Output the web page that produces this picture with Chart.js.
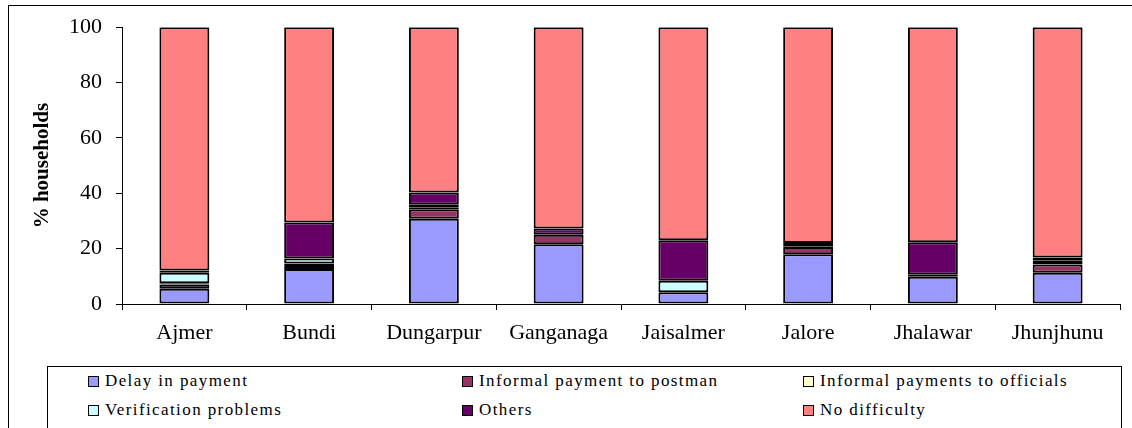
<!DOCTYPE html>
<html>
<head>
<meta charset="utf-8">
<script src="https://cdn.jsdelivr.net/npm/chart.js@4/dist/chart.umd.min.js"></script>
<style>
  html, body { margin: 0; padding: 0; background: #fff; }
  #wrap { position: relative; width: 1132px; height: 428px; overflow: hidden; }
  #frame { position: absolute; left: 8px; top: 5px; width: 1300px; height: 600px; border: 1.5px solid #000; box-sizing: border-box; }
  canvas { position: absolute; left: 0; top: 0; }
  #legend { position: absolute; left: 47px; top: 366px; width: 1075px; height: 100px; border: 1px solid #000; box-sizing: border-box; background: #fff; font-family: "Liberation Serif", "Times New Roman", serif; font-size: 17px; color: #000; }
  .item { position: absolute; display: flex; align-items: center; white-space: nowrap; letter-spacing: 1.4px; }
  .sw { width: 9px; height: 9px; border: 1.5px solid #000; margin-right: 6px; }
</style>
</head>
<body>
<div id="wrap">
  <div id="frame"></div>
  <canvas id="c" width="1132" height="428"></canvas>
  <div id="legend"></div>
</div>
<script>
const categories = ["Ajmer", "Bundi", "Dungarpur", "Ganganaga", "Jaisalmer", "Jalore", "Jhalawar", "Jhunjhunu"];
const delayInPayment        = [5.5, 12.6, 30.8, 21.6, 4.2, 18.0, 9.8, 11.3];
const informalPostman       = [1.5, 1.5, 3.4, 3.4, 0.0, 2.6, 0.8, 3.0];
const informalOfficials     = [0.5, 0.5, 0.6, 0.0, 0.0, 0.3, 0.0, 0.5];
const verificationProblems  = [3.8, 1.8, 1.1, 0.0, 4.2, 1.1, 0.0, 0.8];
const others                = [0.8, 13.0, 4.4, 2.3, 14.6, 0.0, 11.7, 1.2];
const noDifficulty          = [87.9, 70.6, 59.7, 72.7, 77.0, 78.0, 77.7, 83.2];
const yTicks = [0, 20, 40, 60, 80, 100];

const seriesNames = ["Delay in payment", "Informal payment to postman", "Informal payments to officials", "Verification problems", "Others", "No difficulty"];
const seriesData = [delayInPayment, informalPostman, informalOfficials, verificationProblems, others, noDifficulty];
const seriesColors = ["#9999FF", "#993366", "#FFFFCC", "#CCFFFF", "#660066", "#FF8080"];

const FONT = "'Liberation Serif', 'Times New Roman', serif";

const datasets = seriesNames.map((n, i) => ({
  label: n,
  data: seriesData[i],
  backgroundColor: seriesColors[i],
  borderColor: "#000",
  borderWidth: 2,
  borderSkipped: false,
  categoryPercentage: 1.0,
  barPercentage: 0.4
}));

new Chart(document.getElementById("c"), {
  type: "bar",
  data: { labels: categories, datasets },
  options: {
    responsive: false,
    animation: false,
    layout: { padding: { top: 26, left: 0, right: 12, bottom: 84 } },
    plugins: { legend: { display: false }, tooltip: { enabled: false } },
    scales: {
      x: {
        stacked: true,
        offset: true,
        grid: { offset: true, drawOnChartArea: false, drawTicks: true, tickLength: 6, color: "#000", lineWidth: 1 },
        border: { display: true, color: "#000", width: 1 },
        ticks: { color: "#000", padding: 10, font: { family: FONT, size: 22 }, maxRotation: 0 },
        afterFit: s => { s.height = 40; }
      },
      y: {
        stacked: true,
        min: 0, max: 100,
        afterBuildTicks: s => { s.ticks = yTicks.map(v => ({ value: v })); },
        grid: { drawOnChartArea: false, drawTicks: true, tickLength: 6, color: "#000", lineWidth: 1 },
        border: { display: true, color: "#000", width: 1 },
        ticks: { color: "#000", padding: 14, font: { family: FONT, size: 22 } },
        title: { display: true, text: "% households", color: "#000", font: { family: FONT, size: 21, weight: "bold" }, padding: { top: 30, bottom: 0 } },
        afterFit: s => { s.width = 122; }
      }
    }
  }
});

const legendPos = [[40, 4], [414, 4], [755, 4], [40, 33], [414, 33], [755, 33]];
const lg = document.getElementById("legend");
seriesNames.forEach((n, i) => {
  const d = document.createElement("div");
  d.className = "item";
  d.style.left = legendPos[i][0] + "px";
  d.style.top = legendPos[i][1] + "px";
  const sw = document.createElement("span");
  sw.className = "sw";
  sw.style.background = seriesColors[i];
  const t = document.createElement("span");
  t.textContent = n;
  d.appendChild(sw); d.appendChild(t);
  lg.appendChild(d);
});
</script>
</body>
</html>
